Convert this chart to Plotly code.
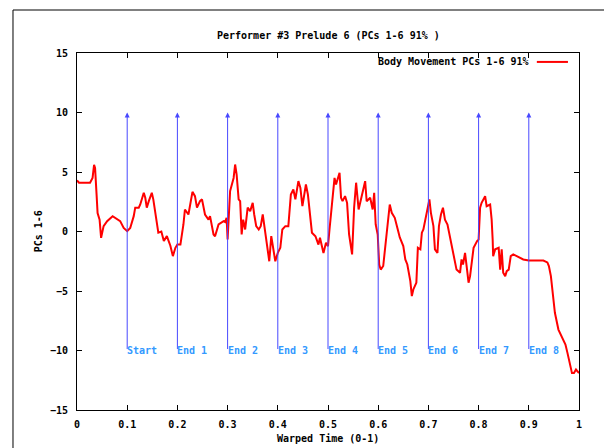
import plotly.graph_objects as go

# ---- data ----
time = [0.000, 0.004, 0.026, 0.031, 0.034, 0.036, 0.039, 0.041, 0.045, 0.048,
        0.053, 0.060, 0.071, 0.080, 0.086, 0.093, 0.100, 0.106, 0.113, 0.116,
        0.123, 0.126, 0.133, 0.136, 0.139, 0.143, 0.149, 0.152, 0.159, 0.162,
        0.168, 0.173, 0.179, 0.186, 0.191, 0.196, 0.200, 0.206, 0.212, 0.215,
        0.222, 0.230, 0.235, 0.239, 0.245, 0.249, 0.255, 0.262, 0.265, 0.272,
        0.275, 0.282, 0.292, 0.295, 0.298, 0.300, 0.305, 0.308, 0.312, 0.315,
        0.318, 0.322, 0.325, 0.328, 0.331, 0.335, 0.340, 0.345, 0.350, 0.353,
        0.357, 0.362, 0.366, 0.370, 0.373, 0.378, 0.383, 0.387, 0.391, 0.395,
        0.400, 0.405, 0.409, 0.415, 0.421, 0.426, 0.431, 0.435, 0.441, 0.445,
        0.449, 0.456, 0.460, 0.468, 0.475, 0.481, 0.484, 0.491, 0.496, 0.500,
        0.503, 0.508, 0.513, 0.516, 0.520, 0.523, 0.526, 0.529, 0.534, 0.538,
        0.542, 0.548, 0.552, 0.556, 0.561, 0.566, 0.574, 0.577, 0.584, 0.589,
        0.592, 0.595, 0.599, 0.602, 0.605, 0.610, 0.620, 0.623, 0.627, 0.633,
        0.640, 0.643, 0.650, 0.654, 0.658, 0.664, 0.667, 0.670, 0.676, 0.679,
        0.684, 0.687, 0.690, 0.698, 0.702, 0.705, 0.710, 0.713, 0.718, 0.721,
        0.725, 0.729, 0.733, 0.738, 0.744, 0.748, 0.753, 0.756, 0.763, 0.766,
        0.769, 0.773, 0.777, 0.780, 0.783, 0.787, 0.790, 0.797, 0.800, 0.803,
        0.806, 0.813, 0.816, 0.823, 0.826, 0.828, 0.829, 0.833, 0.840, 0.843,
        0.846, 0.849, 0.853, 0.856, 0.860, 0.864, 0.869, 0.876, 0.883, 0.889,
        0.900, 0.929, 0.937, 0.940, 0.944, 0.948, 0.952, 0.959, 0.966, 0.973,
        0.977, 0.981, 0.986, 0.990, 0.994, 1.000]
pcs = [4.3, 4.1, 4.1, 4.5, 5.6, 5.35, 3.1, 1.55, 1.0, -0.53,
       0.45, 0.87, 1.29, 1.0, 0.87, 0.3, 0.03, 0.3, 1.29, 2.0,
       2.0, 2.27, 3.25, 2.83, 2.0, 2.55, 3.25, 2.7, 0.59, -0.1,
       0.0, -0.8, -0.39, -1.2, -2.07, -1.37, -1.1, -1.1, 0.59, 1.85,
       1.43, 3.33, 2.97, 2.0, 2.55, 2.7, 1.43, 1.0, 1.29, -0.25,
       -0.4, 0.59, 0.87, 0.8, 1.15, -0.67, 3.4, 3.95, 4.5, 5.63,
       4.79, 2.7, 2.55, -0.25, 1.0, 0.17, 2.0, 1.71, 2.41, 1.43,
       0.45, 0.17, 0.45, 1.43, 0.45, -0.95, -2.5, -0.39, -1.5, -2.5,
       -1.8, -1.37, 0.17, 0.45, 0.45, 3.1, 3.53, 2.7, 4.23, 3.67,
       2.13, 3.95, 3.1, -0.1, -0.4, -1.1, -0.53, -1.8, -0.95, -1.23,
       0.17, 2.55, 4.5, 3.95, 4.65, 4.93, 2.83, 2.55, 2.97, 2.41,
       -0.25, -1.93, 2.0, 4.1, 1.85, 2.7, 4.23, 2.55, 2.83, 1.85,
       3.25, 0.59, -0.25, -2.77, -3.2, -2.9, 0.87, 2.27, 1.57, 1.15,
       0.0, -0.5, -1.23, -2.35, -2.77, -4.17, -5.43, -4.87, -4.3, -1.37,
       -1.5, -0.1, 0.17, 1.71, 2.7, 1.57, 0.45, -1.5, -1.8, 0.45,
       1.43, 2.0, 1.0, 0.59, -0.67, -1.5, -2.77, -3.2, -3.47, -2.35,
       -2.77, -1.8, -3.2, -4.3, -3.75, -2.35, -1.37, -0.8, -0.67, 2.0,
       2.41, 2.97, 2.13, 2.27, 1.0, -0.67, -2.07, -1.5, -1.37, -3.2,
       -1.5, -3.47, -3.75, -3.33, -3.2, -2.07, -1.93, -2.07, -2.2, -2.35,
       -2.44, -2.44, -2.6, -2.9, -3.75, -5.43, -6.83, -8.24, -8.94, -9.5,
       -10.2, -11.0, -11.9, -11.9, -11.6, -11.9]

marker_x = [0.1, 0.2, 0.3, 0.4, 0.5, 0.6, 0.7, 0.8, 0.9]
marker_labels = ["Start", "End 1", "End 2", "End 3", "End 4",
                 "End 5", "End 6", "End 7", "End 8"]
arrow_top = 10
arrow_bottom = -10

x_ticks = [0, 0.1, 0.2, 0.3, 0.4, 0.5, 0.6, 0.7, 0.8, 0.9, 1]
x_tick_text = ["0", "0.1", "0.2", "0.3", "0.4", "0.5", "0.6", "0.7", "0.8", "0.9", "1"]
y_ticks = [-15, -10, -5, 0, 5, 10, 15]

title_text = "Performer #3 Prelude 6 (PCs 1-6 91% )"
series_name = "Body Movement PCs 1-6 91%"
x_title = "Warped Time (0-1)"
y_title = "PCs 1-6"

FONT = "DejaVu Sans Mono"
fnt = dict(family=FONT, size=10, color="black", weight="bold")

fig = go.Figure()
fig.add_trace(go.Scatter(x=time, y=pcs, mode="lines", name=series_name,
                         line=dict(color="#ff0000", width=2),
                         showlegend=False))

annotations = []
for xv, lab in zip(marker_x, marker_labels):
    annotations.append(dict(x=xv, y=arrow_top, ax=xv, ay=arrow_bottom,
                            xref="x", yref="y", axref="x", ayref="y",
                            text="", showarrow=True, arrowhead=2,
                            arrowsize=1, arrowwidth=1, arrowcolor="#4848ff"))
    annotations.append(dict(x=xv, y=arrow_bottom, xref="x", yref="y",
                            text=lab, showarrow=False, xanchor="left",
                            yanchor="middle", xshift=-2,
                            font=dict(family=FONT, size=10, color="#3399ff",
                                      weight="bold")))

# title, axis titles, legend
annotations.append(dict(x=0.5, y=1.05, xref="paper", yref="paper",
                        text=title_text, showarrow=False, xanchor="center",
                        yanchor="middle", font=fnt))
annotations.append(dict(x=0.5, y=-0.081, xref="paper", yref="paper",
                        text=x_title, showarrow=False, xanchor="center",
                        yanchor="middle", font=fnt))
annotations.append(dict(x=-0.076, y=0.5, xref="paper", yref="paper",
                        text=y_title, showarrow=False, textangle=-90,
                        xanchor="center", yanchor="middle", font=fnt))
annotations.append(dict(x=0.904, y=0.975, xref="paper", yref="paper",
                        text=series_name, showarrow=False, xanchor="right",
                        yanchor="middle", font=fnt))

shapes = [
    # legend sample line
    dict(type="line", xref="paper", yref="paper", x0=0.916, x1=0.978,
         y0=0.975, y1=0.975, line=dict(color="#ff0000", width=2)),
    # window frame
    dict(type="line", xref="paper", yref="paper", x0=-0.1275, x1=1.06,
         y0=1.1204, y1=1.1204, line=dict(color="#808080", width=2)),
    dict(type="line", xref="paper", yref="paper", x0=-0.1275, x1=-0.1275,
         y0=1.1204, y1=-0.12, line=dict(color="black", width=1)),
]

axis_common = dict(showgrid=False, zeroline=False, showline=True,
                   linecolor="black", linewidth=1, mirror="ticks",
                   ticks="inside", ticklen=5, tickwidth=1, tickcolor="black",
                   tickfont=fnt)

fig.update_layout(
    width=604, height=448,
    margin=dict(l=77, r=25, t=53, b=38),
    paper_bgcolor="white", plot_bgcolor="white",
    font=fnt,
    xaxis=dict(range=[0, 1], tickvals=x_ticks, ticktext=x_tick_text,
               ticklabelstandoff=5, **axis_common),
    yaxis=dict(range=[-15, 15], tickvals=y_ticks, ticklabelstandoff=6,
               **axis_common),
    annotations=annotations,
    shapes=shapes,
    showlegend=False,
)

fig.write_html("out.html", config={"displayModeBar": False})
